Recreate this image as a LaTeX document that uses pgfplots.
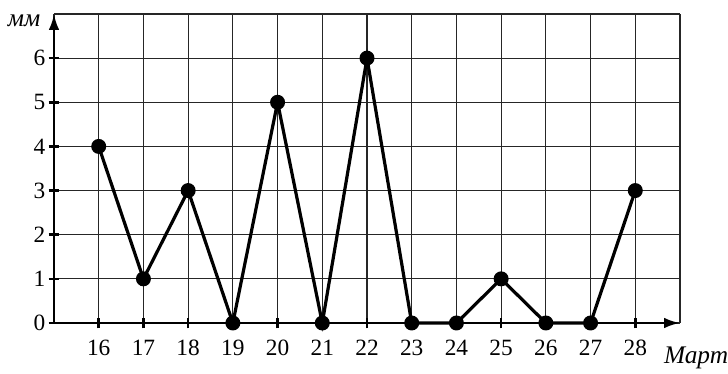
\documentclass[border=0pt]{standalone}
\usepackage{fontspec}
\setmainfont{Liberation Serif}
\usepackage{pgfplots}
\usetikzlibrary{arrows.meta}
\pgfplotsset{compat=1.18}
\begin{document}
\begin{tikzpicture}
\useasboundingbox (0,0) rectangle (546pt,280.5pt);
\begin{axis}[
  at={(40.5pt,38.25pt)}, anchor=south west,
  scale only axis, width=469.5pt, height=231.75pt,
  xmin=15, xmax=29, ymin=0, ymax=7,
  axis lines=left,
  axis line style={line width=2pt, -{Latex[length=12pt,width=8pt]}},
  xtick={16,...,28}, ytick={0,...,6},
  minor xtick={15,29}, minor ytick={7},
  grid=both,
  major grid style={black!85, line width=0.8pt},
  minor grid style={black!85, line width=0.8pt},
  minor tick length=0pt,
  tick align=center, major tick length=8pt,
  tick style={black, line width=2pt},
  ticklabel style={font=\fontsize{17.5}{19}\selectfont},
  /pgf/number format/assume math mode=true,
  xticklabel style={yshift=-5pt},
  yticklabel style={xshift=1pt},
  clip=false,
]
\addplot[black, line width=2.4pt, mark=*, mark size=4.4pt, mark options={fill=black}] coordinates {
(16,4) (17,1) (18,3) (19,0) (20,5) (21,0) (22,6) (23,0) (24,0) (25,1) (26,0) (27,0) (28,3)
};
\node[font=\fontsize{19}{21}\selectfont\itshape] at (axis cs:14.33,6.84) {мм};
\node[font=\fontsize{19}{21}\selectfont\itshape] at (axis cs:29.36,-0.8) {Март};
\end{axis}
\end{tikzpicture}
\end{document}
